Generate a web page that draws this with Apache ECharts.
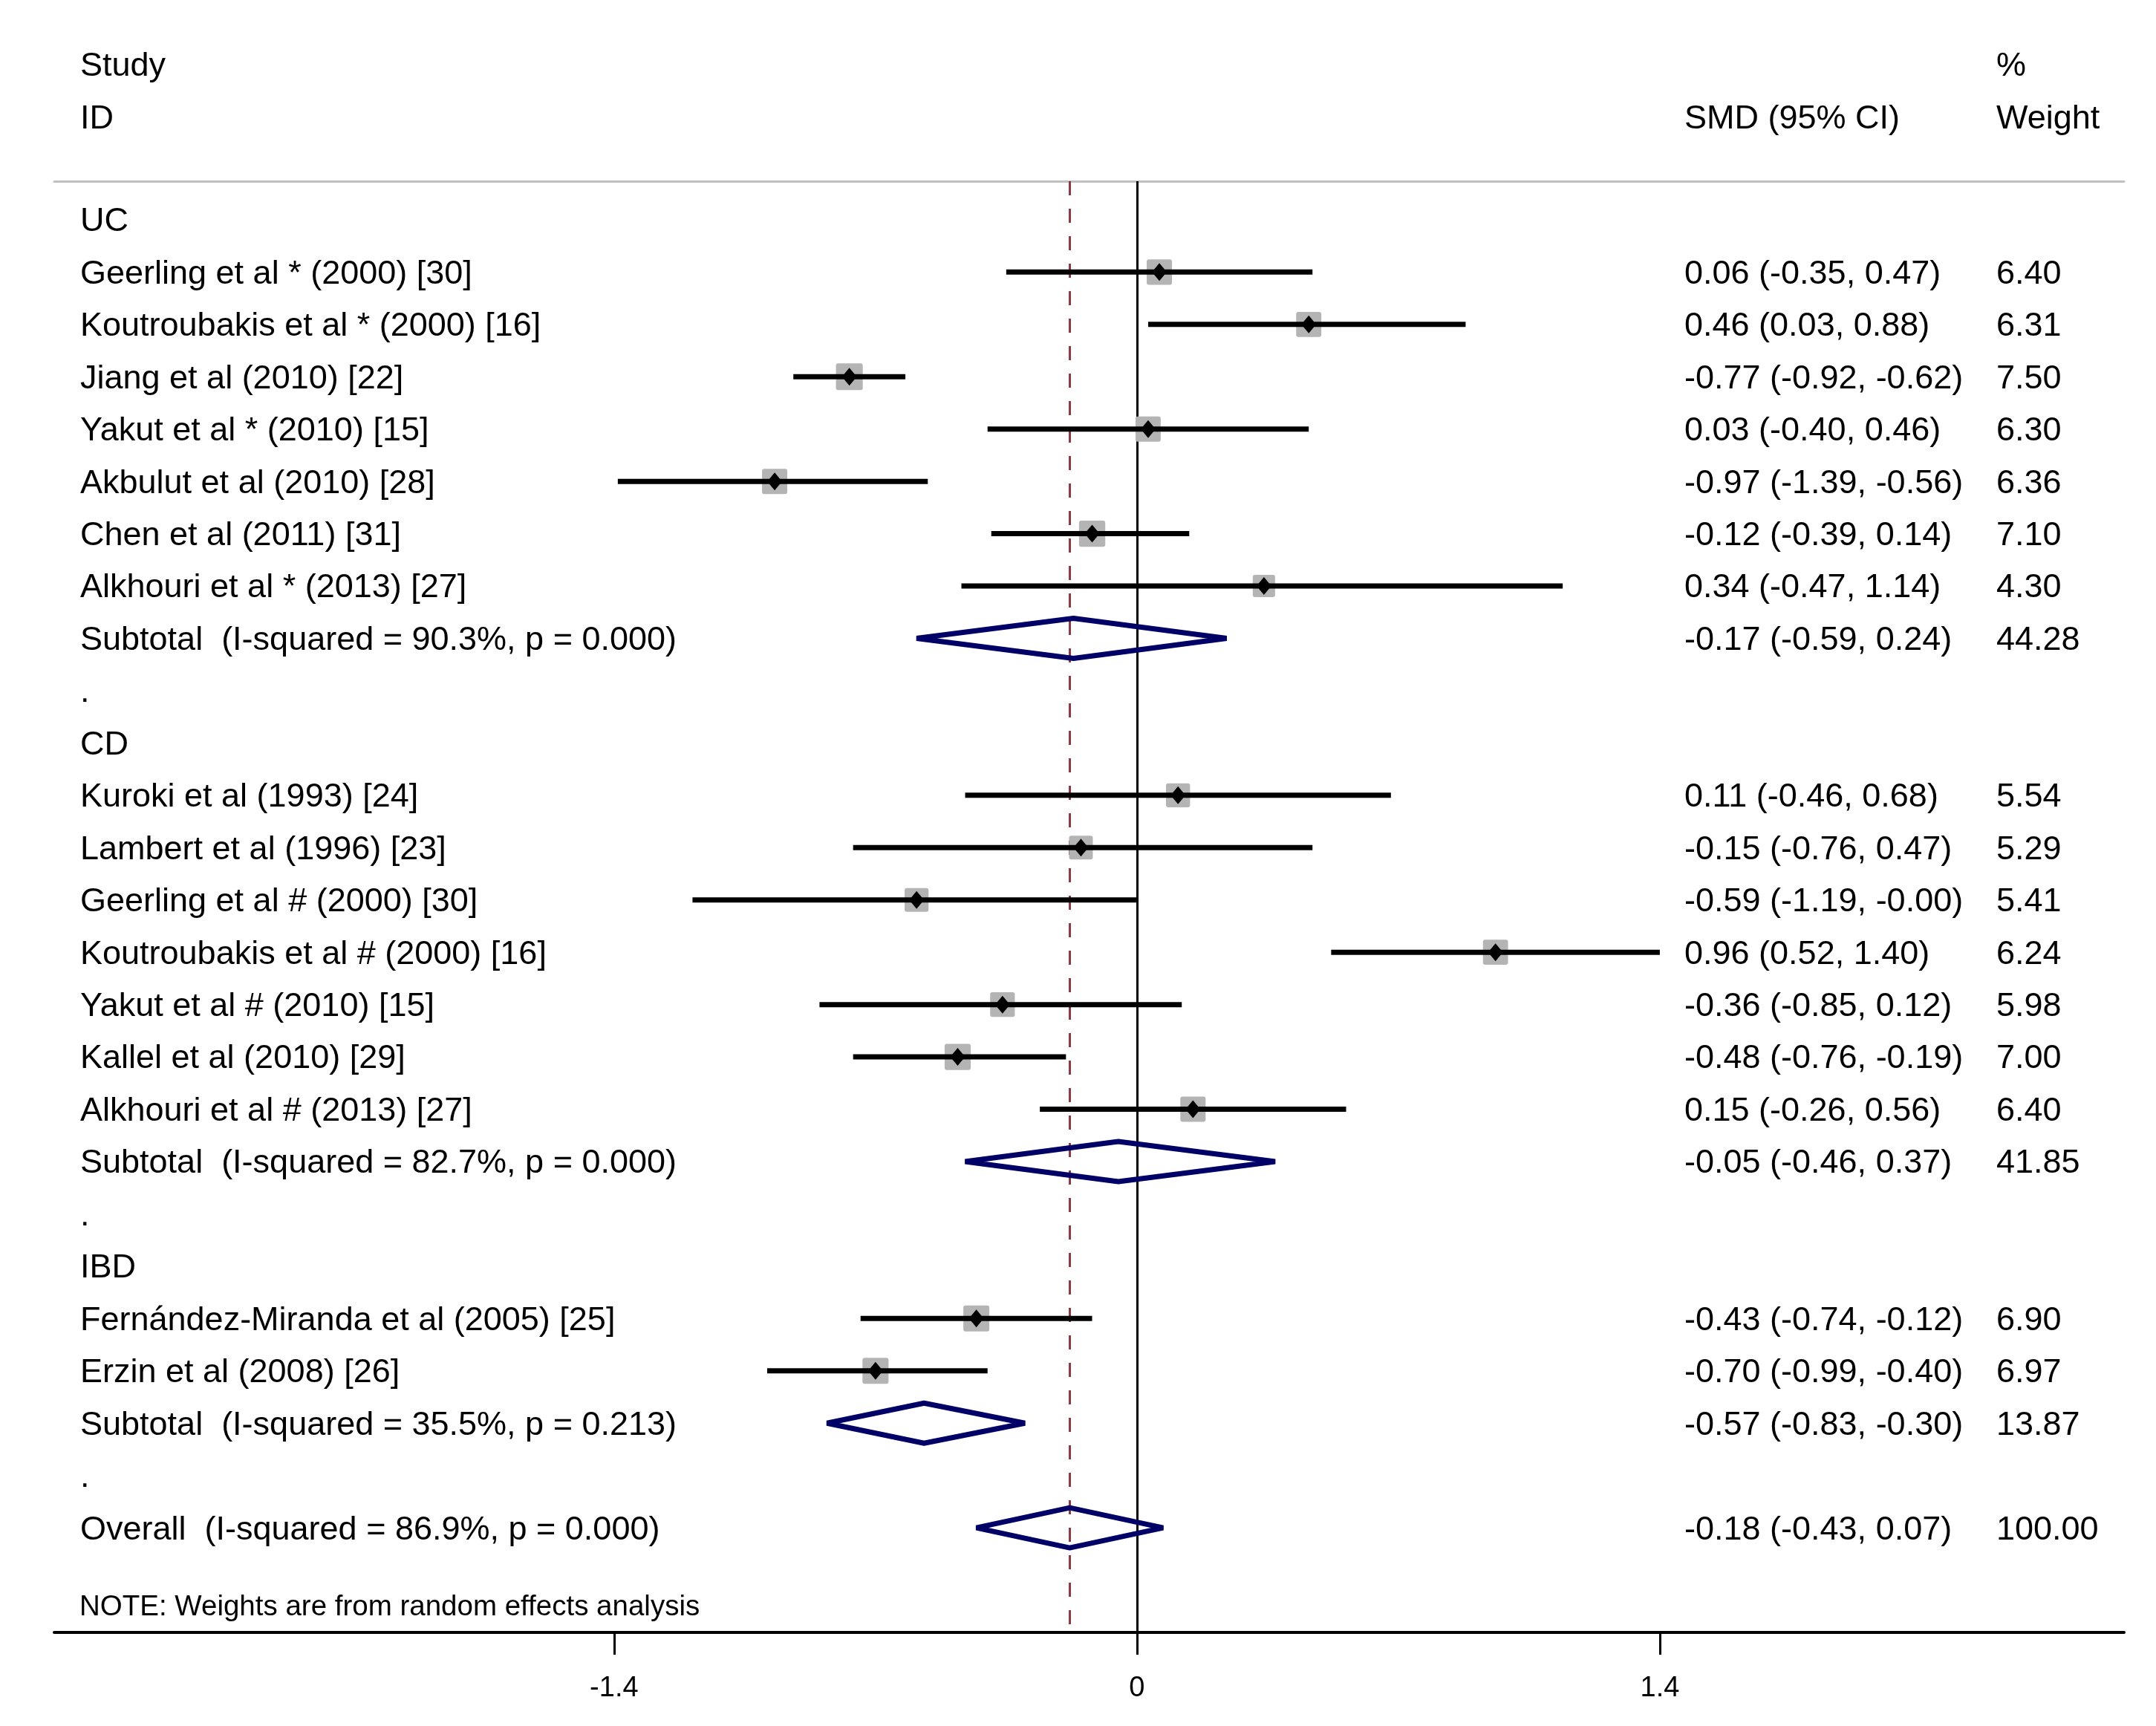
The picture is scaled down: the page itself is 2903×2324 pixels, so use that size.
<!DOCTYPE html>
<html>
<head>
<meta charset="utf-8">
<script src="https://cdn.jsdelivr.net/npm/echarts@6/dist/echarts.min.js"></script>
<style>
  html, body { margin: 0; padding: 0; background: #fff; }
  #chart { width: 2903px; height: 2324px; }
</style>
</head>
<body>
<div id="chart"></div>
<script>
// rows of the forest plot, top to bottom
var rowLabels = [
	'UC',
	'Geerling et al * (2000) [30]',
	'Koutroubakis et al * (2000) [16]',
	'Jiang et al (2010) [22]',
	'Yakut et al * (2010) [15]',
	'Akbulut et al (2010) [28]',
	'Chen et al (2011) [31]',
	'Alkhouri et al * (2013) [27]',
	'Subtotal  (I-squared = 90.3%, p = 0.000)',
	'.',
	'CD',
	'Kuroki et al (1993) [24]',
	'Lambert et al (1996) [23]',
	'Geerling et al # (2000) [30]',
	'Koutroubakis et al # (2000) [16]',
	'Yakut et al # (2010) [15]',
	'Kallel et al (2010) [29]',
	'Alkhouri et al # (2013) [27]',
	'Subtotal  (I-squared = 82.7%, p = 0.000)',
	'.',
	'IBD',
	'Fernández-Miranda et al (2005) [25]',
	'Erzin et al (2008) [26]',
	'Subtotal  (I-squared = 35.5%, p = 0.213)',
	'.',
	'Overall  (I-squared = 86.9%, p = 0.000)'
];
// group | study | pooled | gap
var rowKind = [
	'group', 'study', 'study', 'study', 'study', 'study', 'study', 'study', 'pooled', 'gap',
	'group', 'study', 'study', 'study', 'study', 'study', 'study', 'study', 'pooled', 'gap',
	'group', 'study', 'study', 'pooled', 'gap',
	'pooled'
];
var smd = [null, 0.06, 0.46, -0.77, 0.03, -0.97, -0.12, 0.34, -0.17, null,
	null, 0.11, -0.15, -0.59, 0.96, -0.36, -0.48, 0.15, -0.05, null,
	null, -0.43, -0.70, -0.57, null,
	-0.18];
var ciLow = [null, -0.35, 0.03, -0.92, -0.40, -1.39, -0.39, -0.47, -0.59, null,
	null, -0.46, -0.76, -1.19, 0.52, -0.85, -0.76, -0.26, -0.46, null,
	null, -0.74, -0.99, -0.83, null,
	-0.43];
var ciHigh = [null, 0.47, 0.88, -0.62, 0.46, -0.56, 0.14, 1.14, 0.24, null,
	null, 0.68, 0.47, -0.00, 1.40, 0.12, -0.19, 0.56, 0.37, null,
	null, -0.12, -0.40, -0.30, null,
	0.07];
var weight = [null, 6.40, 6.31, 7.50, 6.30, 6.36, 7.10, 4.30, 44.28, null,
	null, 5.54, 5.29, 5.41, 6.24, 5.98, 7.00, 6.40, 41.85, null,
	null, 6.90, 6.97, 13.87, null,
	100.00];
var xTicks = [-1.4, 0, 1.4];
var overallIdx = 25;

var FONT = '"Liberation Sans", Arial, sans-serif';
var labelX = 108, ciX = 2268, weightX = 2688;
var textDy = 3;
var navy = '#000066';

function fmt(v) {
	var neg = v < 0 || Object.is(v, -0);
	return (neg ? '-' : '') + Math.abs(v).toFixed(2);
}

function txt(x, y, s, size) {
	return {
		type: 'text',
		x: x, y: y + textDy,
		style: { text: s, font: size + 'px ' + FONT, fill: '#000', align: 'left', verticalAlign: 'middle' }
	};
}

function renderRow(params, api) {
	var i = params.dataIndex;
	var kind = rowKind[i];
	var y = api.coord([0, i])[1];
	var kids = [txt(labelX, y, rowLabels[i], 45)];

	if (kind == 'study') {
		var xl = api.coord([ciLow[i], i])[0];
		var xh = api.coord([ciHigh[i], i])[0];
		var xc = api.coord([smd[i], i])[0];
		var side = 22 + 1.88 * weight[i];
		kids.push({
			type: 'rect',
			shape: { x: xc - side / 2, y: y - side / 2, width: side, height: side, r: 3 },
			style: { fill: '#b4b4b4' }
		});
		kids.push({
			type: 'line',
			shape: { x1: xl, y1: y, x2: xh, y2: y },
			style: { stroke: '#000', lineWidth: 7 }
		});
		kids.push({
			type: 'polygon',
			shape: { points: [[xc - 10, y], [xc, y - 12], [xc + 10, y], [xc, y + 12]] },
			style: { fill: '#000' }
		});
	}
	if (kind == 'pooled') {
		var pl = api.coord([ciLow[i], i])[0];
		var ph = api.coord([ciHigh[i], i])[0];
		var pc = api.coord([smd[i], i])[0];
		var h = 27;
		kids.push({
			type: 'polygon',
			shape: { points: [[pl, y], [pc, y - h], [ph, y], [pc, y + h]] },
			style: { fill: 'none', stroke: navy, lineWidth: 7, lineJoin: 'bevel' }
		});
	}
	if (kind == 'study' || kind == 'pooled') {
		kids.push(txt(ciX, y, fmt(smd[i]) + ' (' + fmt(ciLow[i]) + ', ' + fmt(ciHigh[i]) + ')', 45));
		kids.push(txt(weightX, y, weight[i].toFixed(2), 45));
	}
	return { type: 'group', children: kids };
}

var chart = echarts.init(document.getElementById('chart'));

var xMin = -2.899, xMax = 2.643;

chart.setOption({
	animation: false,
	backgroundColor: '#fff',
	grid: { left: 73, right: 43, top: 244, bottom: 126 },
	xAxis: [
		{
			type: 'value',
			position: 'bottom',
			min: xMin, max: xMax,
			splitLine: { show: false },
			axisLine: { show: true, onZero: false, lineStyle: { color: '#000', width: 4 } },
			axisTick: { show: true, inside: false, length: 30, customValues: xTicks, lineStyle: { color: '#000', width: 3 } },
			axisLabel: {
				show: true, customValues: xTicks, margin: 57,
				color: '#000', fontSize: 38, fontFamily: FONT,
				formatter: function (v) { return String(v); }
			}
		},
		{
			type: 'value',
			position: 'top',
			min: xMin, max: xMax,
			splitLine: { show: false },
			axisLine: { show: true, onZero: false, lineStyle: { color: '#c0c0c0', width: 3 } },
			axisTick: { show: false },
			axisLabel: { show: false }
		}
	],
	yAxis: {
		type: 'value',
		inverse: true,
		min: -0.737, max: 27.0,
		show: false
	},
	graphic: [
		txt(108, 87, 'Study', 45),
		txt(108, 158, 'ID', 45),
		txt(ciX, 158, 'SMD (95% CI)', 45),
		txt(weightX, 87, '%', 45),
		txt(weightX, 158, 'Weight', 45),
		txt(107, 2161, 'NOTE: Weights are from random effects analysis', 38.5)
	],
	series: [
		{
			type: 'line',
			data: [],
			z: 1,
			markLine: {
				silent: true,
				symbol: 'none',
				label: { show: false },
				data: [
					{ xAxis: 0, lineStyle: { color: '#000', width: 3, type: 'solid' } },
					{ xAxis: smd[overallIdx], lineStyle: { color: '#8c3a44', width: 3, type: [19, 18] } }
				]
			}
		},
		{
			type: 'custom',
			z: 5,
			renderItem: renderRow,
			data: rowLabels.map(function (d, i) { return [0, i]; })
		}
	]
});
</script>
</body>
</html>
